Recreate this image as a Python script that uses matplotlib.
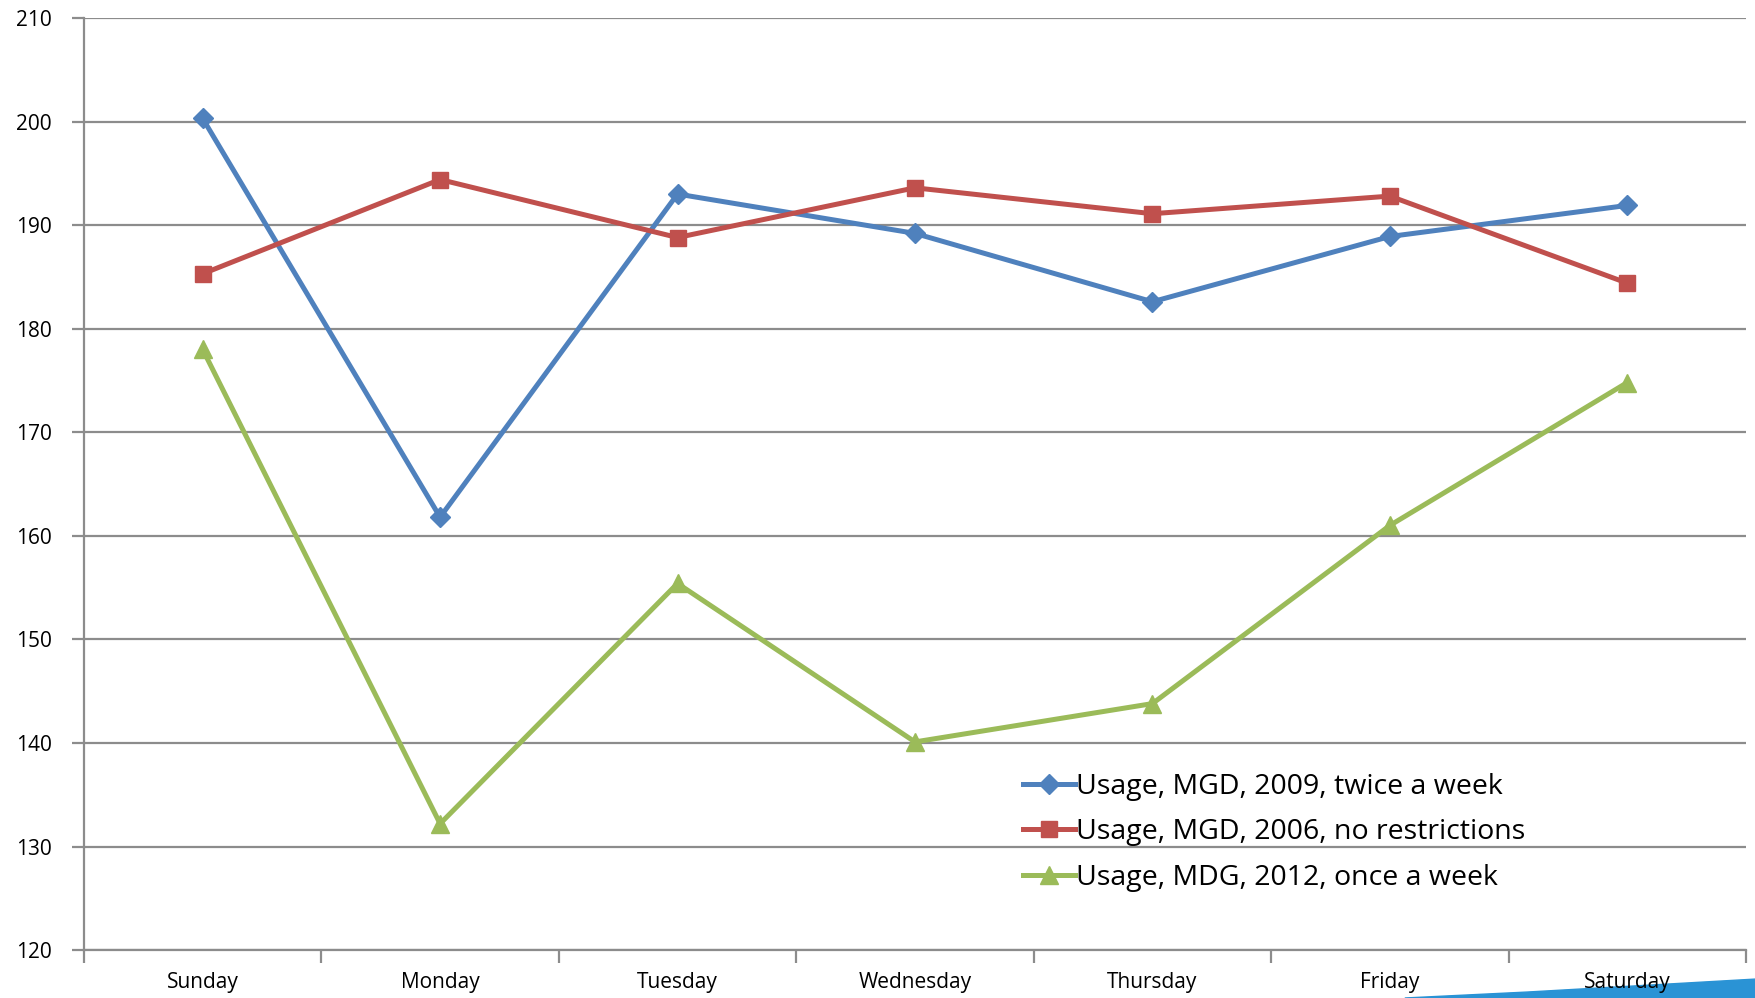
import numpy as np
import matplotlib.pyplot as plt
from matplotlib.patches import Polygon

# Data
days = ['Sunday', 'Monday', 'Tuesday', 'Wednesday', 'Thursday', 'Friday', 'Saturday']
usage_2009 = [200.3, 161.8, 193.0, 189.2, 182.6, 188.9, 191.9]
usage_2006 = [185.3, 194.4, 188.8, 193.6, 191.1, 192.8, 184.4]
usage_2012 = [178.0, 132.2, 155.4, 140.1, 143.8, 161.0, 174.8]

labels = ['Usage, MGD, 2009, twice a week',
          'Usage, MGD, 2006, no restrictions',
          'Usage, MDG, 2012, once a week']

plt.rcParams['font.family'] = ['Open Sans', 'DejaVu Sans']

fig = plt.figure(figsize=(17.56, 9.98), dpi=100)

# blue swoosh from the slide background, bottom right
swoosh = Polygon([[0.80, 0.0], [0.87, 0.006], [0.93, 0.012], [1.0, 0.019], [1.0, 0.0]],
                 closed=True, transform=fig.transFigure, color='#2A93D5', zorder=-1)
fig.patches.append(swoosh)

ax = fig.add_axes([0.0478, 0.048, 0.9465, 0.934])
ax.patch.set_alpha(0)

x = np.arange(len(days))
ax.plot(x, usage_2009, color='#4F81BD', lw=3.6, marker='D', ms=10, label=labels[0], zorder=3)
ax.plot(x, usage_2006, color='#C0504D', lw=3.6, marker='s', ms=12, label=labels[1], zorder=3)
ax.plot(x, usage_2012, color='#9BBB59', lw=3.6, marker='^', ms=13, label=labels[2], zorder=3)

ax.set_xlim(-0.5, len(days) - 0.5)
ax.set_ylim(120, 210)
ax.set_yticks(np.arange(120, 211, 10))
ax.yaxis.grid(True, color='#8C8C8C', lw=1.6)
ax.set_axisbelow(True)

# category labels centred, tick marks at category boundaries
ax.set_xticks(x)
ax.set_xticklabels(days, fontsize=15)
ax.set_xticks(np.arange(-0.5, len(days)), minor=True)
ax.tick_params(axis='x', which='major', length=0, pad=16)
ax.tick_params(axis='x', which='minor', length=9, width=1.6, color='#8C8C8C')
ax.tick_params(axis='y', length=9, width=1.6, color='#8C8C8C', labelsize=15, pad=14)

for side in ['top', 'right']:
    ax.spines[side].set_visible(False)
for side in ['left', 'bottom']:
    ax.spines[side].set_color('#8C8C8C')
    ax.spines[side].set_linewidth(1.6)

ax.legend(loc='upper left', bbox_to_anchor=(0.5566, 0.2056), frameon=False, fontsize=20.5,
          handlelength=1.8, handletextpad=0.05, labelspacing=0.62, borderpad=0)

fig.savefig('out.png', dpi=100)
